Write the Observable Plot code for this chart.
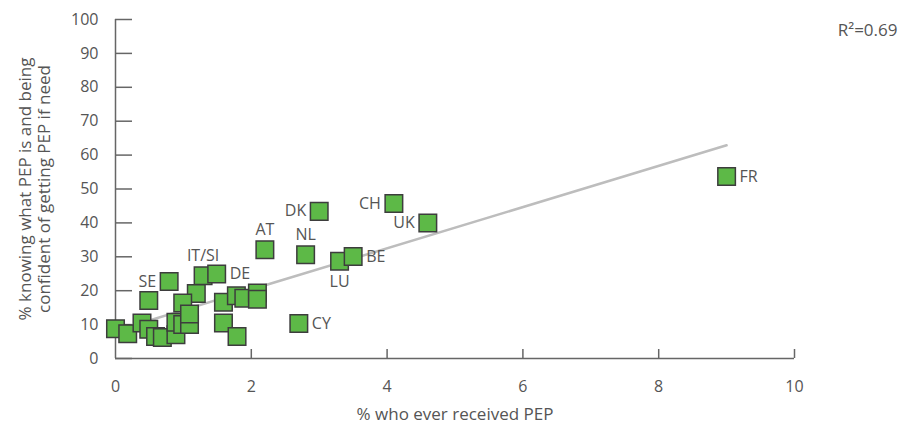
<!DOCTYPE html>
<html>
<head>
<meta charset="utf-8">
<script src="https://cdn.jsdelivr.net/npm/d3@7"></script>
<script src="https://cdn.jsdelivr.net/npm/@observablehq/plot@0.6"></script>
<style>
  html, body { margin: 0; padding: 0; background: #fff; }
</style>
</head>
<body>
<div id="chart"></div>
<script>
// ---- data ----
const countries = ["", "", "", "", "", "", "", "", "", "", "", "",
  "", "SE", "IT/SI", "DE", "", "", "", "", "", "", "", "",
  "AT", "NL", "DK", "CY", "LU", "BE", "CH", "UK", "FR"];
const received = [0, 0.18, 0.39, 0.49, 0.59, 0.69, 0.89, 0.89, 0.99, 1.09, 1.59, 1.79,
  0.49, 0.79, 1.29, 1.49, 1.19, 0.99, 1.09, 1.59, 1.78, 1.89, 2.09, 2.09,
  2.2, 2.8, 3.0, 2.7, 3.3, 3.5, 4.1, 4.6, 9.0];
const knowing = [8.8, 7.3, 10.5, 8.6, 6.5, 6.2, 7.0, 10.7, 10.0, 10.0, 10.5, 6.5,
  17.1, 22.7, 24.4, 24.9, 19.2, 16.4, 13.1, 16.6, 18.5, 17.8, 19.3, 17.5,
  32.1, 30.6, 43.4, 10.3, 28.7, 30.1, 45.7, 40.0, 53.7];
const xTicks = [0, 2, 4, 6, 8, 10];
const yTicks = [0, 10, 20, 30, 40, 50, 60, 70, 80, 90, 100];
const xLabel = "% who ever received PEP";
const yLabel = "% knowing what PEP is and being\nconfident of getting PEP if need";
const r2Label = "R²=0.69";

// ---- layout ----
const placement = {SE: "left", DK: "left", CH: "left", UK: "left",
  DE: "right", BE: "right", CY: "right", FR: "right",
  "IT/SI": "top", AT: "top", NL: "top", LU: "bottom"};

const data = countries.map((c, i) => ({country: c, x: received[i], y: knowing[i]}));
const side = s => data.filter(d => placement[d.country] === s);

const textColor = "#555";
const font = "'Open Sans', 'Noto Sans', sans-serif";

const chart = Plot.plot({
  width: 898,
  height: 426,
  marginLeft: 115,
  marginRight: 104,
  marginTop: 19,
  marginBottom: 68,
  style: {fontFamily: font, fontSize: "16px", color: textColor, background: "#fff"},
  x: {domain: [0, 10]},
  y: {domain: [0, 100]},
  marks: [
    Plot.axisY(yTicks, {anchor: "left", tickSize: -17, tickFormat: () => "", stroke: "#666", strokeWidth: 1.5, label: null}),
    Plot.axisY(yTicks, {anchor: "left", tickSize: 0, tickPadding: 17, fill: textColor, fontSize: 16, label: null}),
    Plot.axisX(xTicks.filter(t => t > 0), {anchor: "bottom", tickSize: -9, tickFormat: () => "", stroke: "#666", strokeWidth: 1.5, label: null}),
    Plot.axisX(xTicks, {anchor: "bottom", tickSize: 0, tickPadding: 22, fill: textColor, fontSize: 16, label: null}),
    Plot.ruleX([0], {stroke: "#666", strokeWidth: 1.5}),
    Plot.ruleY([0], {stroke: "#666", strokeWidth: 1.5}),
    Plot.linearRegressionY(data, {x: "x", y: "y", stroke: "#bdbdbd", strokeWidth: 2.5, ci: 0}),
    Plot.dot(data, {x: "x", y: "y", symbol: "square", r: 9.9, fill: "#5db947", stroke: "#3d3d3d", strokeWidth: 1.5, fillOpacity: 1}),
    Plot.text(side("left"), {x: "x", y: "y", text: "country", textAnchor: "end", dx: -13, fill: textColor, fontSize: 16}),
    Plot.text(side("right"), {x: "x", y: "y", text: "country", textAnchor: "start", dx: 13, fill: textColor, fontSize: 16}),
    Plot.text(side("top"), {x: "x", y: "y", text: "country", dy: -20, fill: textColor, fontSize: 16}),
    Plot.text(side("bottom"), {x: "x", y: "y", text: "country", dy: 21, fill: textColor, fontSize: 16}),
    Plot.text([xLabel], {frameAnchor: "bottom", dy: 56, lineAnchor: "middle", textAnchor: "middle", text: d => d, fill: textColor, fontSize: 17}),
    Plot.text([yLabel], {frameAnchor: "left", dx: -81.5, rotate: -90, textAnchor: "middle", lineAnchor: "middle", text: d => d, fill: textColor, fontSize: 17, lineHeight: 1.12}),
    Plot.text([r2Label], {frameAnchor: "top-right", dx: 103, dy: 11, textAnchor: "end", lineAnchor: "middle", text: d => d, fill: textColor, fontSize: 17})
  ]
});

document.getElementById("chart").appendChild(chart);
</script>
</body>
</html>
